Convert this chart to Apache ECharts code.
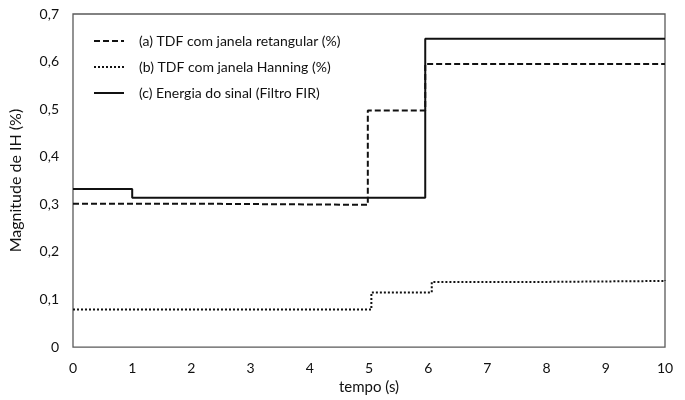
<!DOCTYPE html>
<html><head><meta charset="utf-8">
<script src="https://cdn.jsdelivr.net/npm/echarts@6/dist/echarts.min.js"></script>
<style>html,body{margin:0;padding:0;background:#fff}#c{width:685px;height:400px}</style>
</head><body><div id="c"></div>
<script>
const seriesNames = ['(a) TDF com janela retangular (%)', '(b) TDF com janela Hanning (%)', '(c) Energia do sinal (Filtro FIR)'];
// [tempo, valor] step points (value holds until next point)
const tdfRetangular = [[0, 0.301], [2.5, 0.299], [4.98, 0.497], [5.95, 0.595], [10, 0.595]];
const tdfHanning = [[0, 0.079], [5.04, 0.115], [6.06, 0.137], [8, 0.139], [10, 0.141]];
const energiaFIR = [[0, 0.332], [1, 0.314], [5.95, 0.648], [10, 0.648]];
const xTicks = [0,1,2,3,4,5,6,7,8,9,10];
const yTicks = [0,0.1,0.2,0.3,0.4,0.5,0.6,0.7];

const font = 'Lato, "Open Sans", sans-serif';
const chart = echarts.init(document.getElementById('c'), null, {renderer: 'canvas'});
chart.setOption({
  animation: false,
  backgroundColor: '#fff',
  grid: {left: 73, right: 20, top: 14, bottom: 50, show: true, borderColor: '#595959', borderWidth: 1.3},
  legend: {
    orient: 'vertical', left: 88, top: 29, itemGap: 12, itemWidth: 30, itemHeight: 14,
    itemStyle: {color: 'transparent', borderWidth: 0, opacity: 0},
    textStyle: {fontFamily: font, fontSize: 14, color: '#111', padding: [0,0,0,10]},
    data: seriesNames
  },
  xAxis: {
    type: 'value', min: 0, max: 10, interval: 1,
    name: 'tempo (s)', nameLocation: 'middle', nameGap: 29,
    nameTextStyle: {fontFamily: font, fontSize: 15, color: '#111'},
    axisLine: {show: false}, axisTick: {show: false}, splitLine: {show: false},
    axisLabel: {fontFamily: font, fontSize: 14, color: '#111', margin: 14,
      formatter: v => xTicks.includes(v) ? String(v) : ''}
  },
  yAxis: {
    type: 'value', min: 0, max: 0.7, interval: 0.1,
    name: 'Magnitude de IH (%)', nameLocation: 'middle', nameGap: 49, nameRotate: 90,
    nameTextStyle: {fontFamily: font, fontSize: 16, color: '#111'},
    axisLine: {show: false}, axisTick: {show: false}, splitLine: {show: false},
    axisLabel: {fontFamily: font, fontSize: 14, color: '#111', margin: 14,
      formatter: v => { const t = yTicks.find(y => Math.abs(y - v) < 1e-9); return t === undefined ? '' : (t === 0 ? '0' : t.toFixed(1).replace('.', ',')); }}
  },
  series: [
    {name: seriesNames[0], type: 'line', step: 'end', showSymbol: false, symbol: 'none', data: tdfRetangular,
      lineStyle: {color: '#111', width: 2, type: [6, 3]}, itemStyle: {color: '#111'}},
    {name: seriesNames[1], type: 'line', step: 'end', showSymbol: false, symbol: 'none', data: tdfHanning,
      lineStyle: {color: '#111', width: 2, type: [2, 2]}, itemStyle: {color: '#111'}},
    {name: seriesNames[2], type: 'line', step: 'end', showSymbol: false, symbol: 'none', data: energiaFIR,
      lineStyle: {color: '#111', width: 2, type: 'solid'}, itemStyle: {color: '#111'}}
  ]
});
</script></body></html>
